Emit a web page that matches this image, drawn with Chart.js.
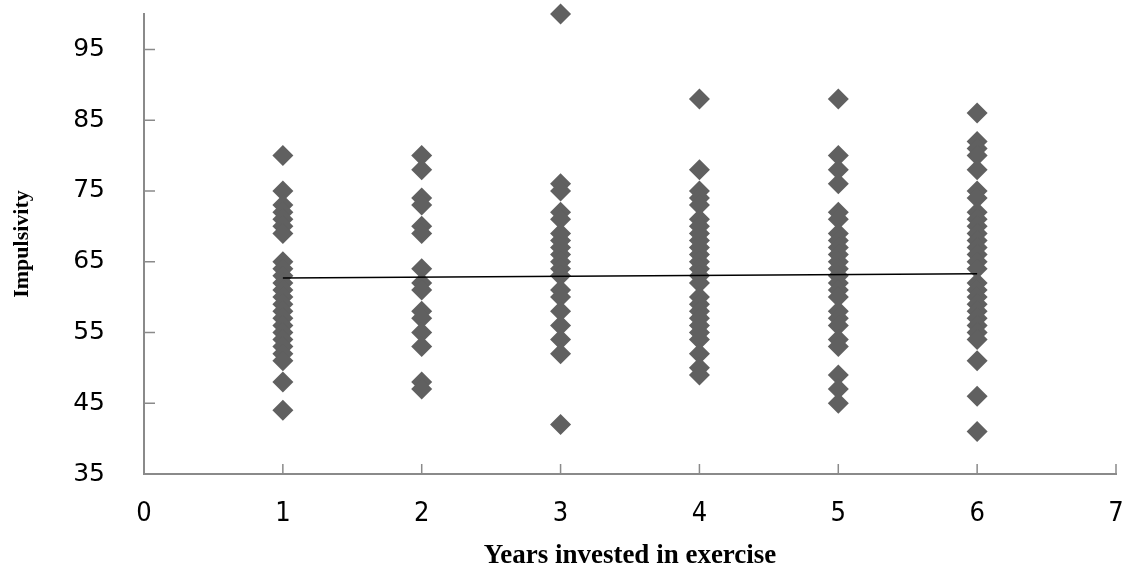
<!DOCTYPE html>
<html>
<head>
<meta charset="utf-8">
<script src="https://cdn.jsdelivr.net/npm/chart.js@4.4.1/dist/chart.umd.min.js"></script>
<style>
  html, body { margin: 0; padding: 0; background: #fff; }
  #wrap { width: 1130px; height: 570px; }
</style>
</head>
<body>
<div id="wrap"><canvas id="grafik" width="1130" height="570"></canvas></div>
<script>
// impulsivity scores, one array per year of exercise
const years = [1, 2, 3, 4, 5, 6];
const year1 = [80, 75, 73, 72, 71, 70, 69, 65, 64, 63, 62, 61, 60, 59, 58, 57, 56, 55, 54, 53, 52, 51, 48, 44];
const year2 = [80, 78, 74, 73, 70, 69, 64, 62, 61, 58, 57, 55, 53, 48, 47];
const year3 = [100, 76, 75, 72, 71, 69, 68, 67, 66, 65, 64, 63, 61, 60, 58, 56, 54, 52, 42];
const year4 = [88, 78, 75, 74, 73, 71, 70, 69, 68, 67, 66, 65, 64, 63, 62, 60, 59, 58, 57, 56, 55, 54, 52, 50, 49];
const year5 = [88, 80, 78, 76, 72, 71, 69, 68, 67, 66, 65, 64, 63, 62, 61, 60, 58, 57, 56, 54, 53, 49, 47, 45];
const year6 = [86, 82, 81, 80, 78, 75, 74, 72, 71, 70, 69, 68, 67, 66, 65, 64, 62, 61, 60, 59, 58, 57, 56, 55, 54, 51, 46, 41];
const scores = [year1, year2, year3, year4, year5, year6];

// linear trend line ends
const trendX = [1, 6];
const trendY = [62.7, 63.3];

// axis ticks
const xTicks = [0, 1, 2, 3, 4, 5, 6, 7];
const yTicks = [35, 45, 55, 65, 75, 85, 95];

const points = [];
scores.forEach((list, i) => {
  list.forEach(v => points.push({ x: years[i], y: v }));
});

const axisColor = '#8a8a8a';

// Excel-style tick marks pointing into the plot
const innerTicks = {
  id: 'innerTicks',
  afterDraw(chart) {
    const ctx = chart.ctx;
    const xs = chart.scales.x, ys = chart.scales.y;
    ctx.save();
    ctx.strokeStyle = axisColor;
    ctx.lineWidth = 1.5;
    ctx.beginPath();
    xTicks.slice(1).forEach(t => {
      const px = xs.getPixelForValue(t);
      ctx.moveTo(px, ys.bottom);
      ctx.lineTo(px, ys.bottom - 10);
    });
    yTicks.slice(1).forEach(t => {
      const py = ys.getPixelForValue(t);
      ctx.moveTo(xs.left, py);
      ctx.lineTo(xs.left + 11, py);
    });
    ctx.stroke();
    ctx.restore();
  }
};

new Chart(document.getElementById('grafik'), {
  type: 'scatter',
  data: {
    datasets: [
      {
        type: 'line',
        label: 'Trend',
        data: trendX.map((x, i) => ({ x: x, y: trendY[i] })),
        borderColor: '#000',
        borderWidth: 1.5,
        pointRadius: 0,
        fill: false,
        order: 0
      },
      {
        label: 'Impulsivity',
        data: points,
        pointStyle: 'rectRot',
        pointRadius: 10.5,
        backgroundColor: '#606060',
        borderWidth: 0,
        clip: false,
        order: 1
      }
    ]
  },
  options: {
    responsive: false,
    animation: false,
    layout: { padding: { top: 14, right: 14, left: 0, bottom: 0 } },
    plugins: {
      legend: { display: false },
      tooltip: { enabled: false }
    },
    scales: {
      x: {
        type: 'linear',
        min: 0,
        max: 7,
        afterBuildTicks: s => { s.ticks = xTicks.map(v => ({ value: v })); },
        afterFit: s => {
          s.height = 96;
          s.paddingLeft = 0;
          s.paddingRight = 0;
        },
        grid: { display: false, drawTicks: false },
        border: { display: true, color: axisColor, width: 2 },
        ticks: {
          padding: 24,
          color: '#000',
          font: { family: "'Liberation Sans Narrow', 'DejaVu Sans Condensed', sans-serif", size: 27 }
        },
        title: {
          display: true,
          text: 'Years invested in exercise',
          color: '#000',
          padding: { top: 0, bottom: 0 },
          font: { family: "'Liberation Serif', serif", size: 27, weight: 'bold', lineHeight: 1.0 }
        }
      },
      y: {
        type: 'linear',
        min: 35,
        max: 100,
        afterBuildTicks: s => { s.ticks = yTicks.map(v => ({ value: v })); },
        afterFit: s => {
          s.width = 144;
          s.paddingTop = 0;
          s.paddingBottom = 0;
        },
        grid: { display: false, drawTicks: false },
        border: { display: true, color: axisColor, width: 2 },
        ticks: {
          padding: 39,
          color: '#000',
          font: { family: "'DejaVu Sans', Verdana, sans-serif", size: 25 }
        },
        title: {
          display: true,
          text: 'Impulsivity',
          color: '#000',
          padding: { top: 9, bottom: 0 },
          font: { family: "'Liberation Serif', serif", size: 22, weight: 'bold' }
        }
      }
    }
  },
  plugins: [innerTicks]
});
</script>
</body>
</html>
